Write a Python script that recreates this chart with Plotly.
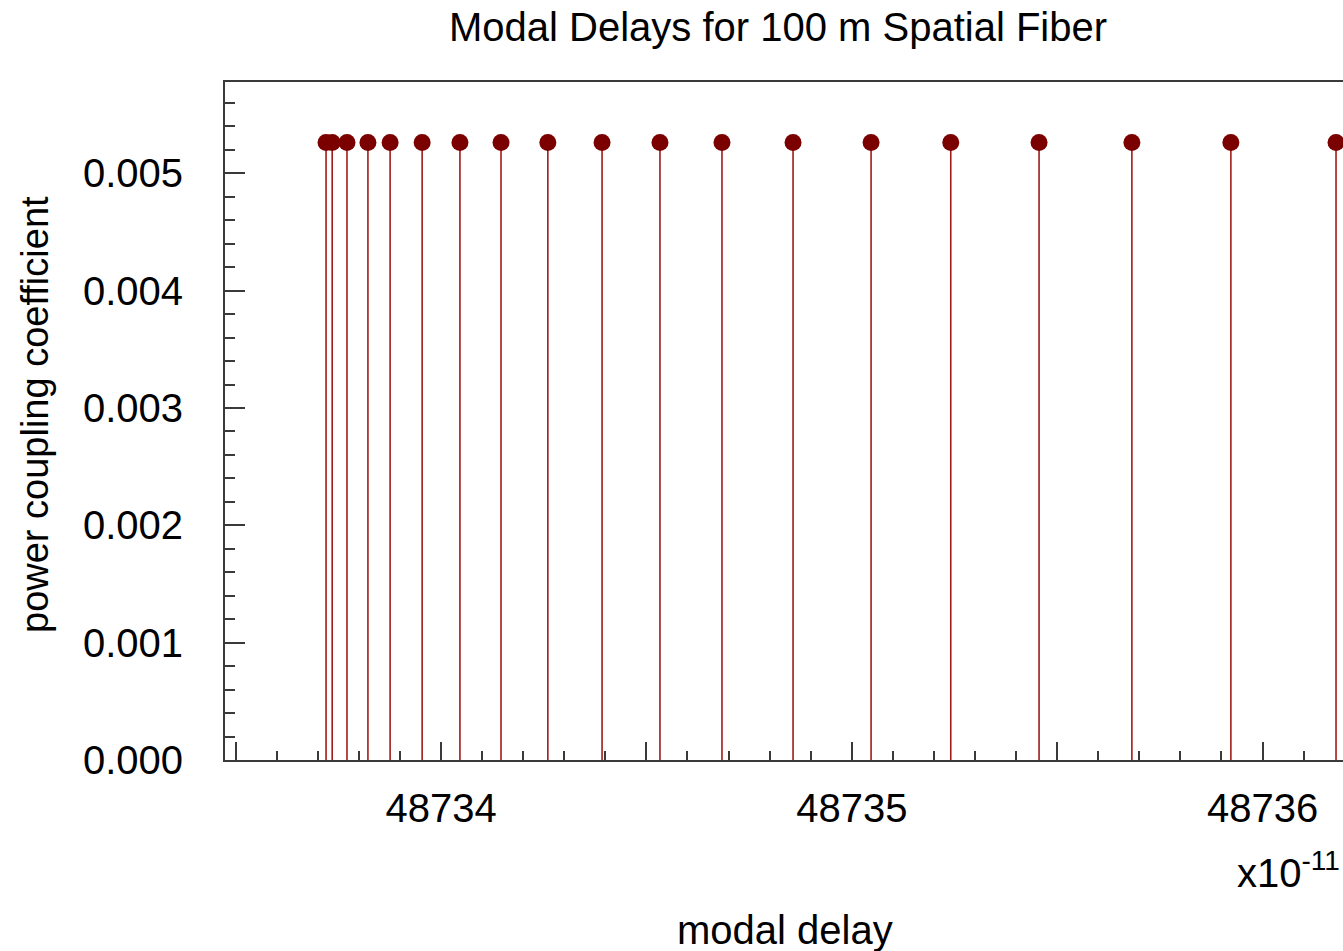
import plotly.graph_objects as go

# modal delays in units of 1e-11 s
delays = [48733.720, 48733.735, 48733.771, 48733.822, 48733.876, 48733.954,
          48734.046, 48734.146, 48734.260, 48734.392, 48734.533, 48734.684,
          48734.857, 48735.047, 48735.241, 48735.456, 48735.682, 48735.923,
          48736.179]
coupling = [0.005263] * len(delays)

x_label_vals = [48734, 48735, 48736]
x_label_text = ["48734", "48735", "48736"]
y_tick_vals = [0.0, 0.001, 0.002, 0.003, 0.004, 0.005]
y_tick_text = ["0.000", "0.001", "0.002", "0.003", "0.004", "0.005"]

FONT = "Liberation Sans, Arial, sans-serif"
W, H = 1343, 951
L, R, T, B = 225, 0, 82, 191
pw, ph = W - L - R, H - T - B
XR = [48733.474, 48736.196]


def px(x):
    return (x - L) / pw


def py(y):
    return (H - B - y) / ph


fig = go.Figure()
fig.add_trace(go.Scatter(
    x=delays, y=coupling, mode="markers",
    marker=dict(size=17, color="#7B0000", line=dict(width=0)),
    error_y=dict(type="data", symmetric=False, array=[0] * len(coupling),
                 arrayminus=coupling, width=0, thickness=1.6, color="#A01C1C"),
    showlegend=False, cliponaxis=False,
))
# helper trace so the half-unit tick axis is rendered
fig.add_trace(go.Scatter(x=[XR[0]], y=[0], xaxis="x2", mode="markers",
                         marker=dict(size=1, opacity=0), showlegend=False,
                         hoverinfo="skip"))

axis_col = "#3a3a3a"
fig.update_layout(
    xaxis=dict(
        range=XR,
        tickmode="array", tickvals=x_label_vals, ticktext=x_label_text,
        ticks="inside", ticklen=18, tickwidth=2, tickcolor=axis_col,
        minor=dict(tick0=48733.5, dtick=0.1, ticks="inside", ticklen=9,
                   tickwidth=2, tickcolor=axis_col, showgrid=False),
        showline=True, linewidth=2, linecolor=axis_col, mirror=True,
        showgrid=False, zeroline=False,
        tickfont=dict(family=FONT, size=40, color="#000"),
        ticklabelstandoff=12,
    ),
    xaxis2=dict(
        range=XR, overlaying="x", side="bottom", anchor="y",
        tickmode="linear", tick0=48733.5, dtick=0.5,
        ticks="inside", ticklen=18, tickwidth=2, tickcolor=axis_col,
        showticklabels=False, showline=False, showgrid=False, zeroline=False,
    ),
    yaxis=dict(
        range=[0, 0.005778],
        tickmode="array", tickvals=y_tick_vals, ticktext=y_tick_text,
        ticks="inside", ticklen=20, tickwidth=2, tickcolor=axis_col,
        minor=dict(tick0=0, dtick=0.0002, ticks="inside", ticklen=10,
                   tickwidth=2, tickcolor=axis_col, showgrid=False),
        showline=True, linewidth=2, linecolor=axis_col, mirror=False,
        showgrid=False, zeroline=False,
        tickfont=dict(family=FONT, size=40, color="#000"),
        ticklabelstandoff=32,
    ),
)

annots = [
    dict(text="Modal Delays for 100 m Spatial Fiber", x=px(778), y=py(27),
         xanchor="center", yanchor="middle", font=dict(size=40)),
    dict(text="modal delay", x=px(785), y=py(930),
         xanchor="center", yanchor="middle", font=dict(size=40)),
    dict(text="power coupling coefficient", x=px(35), y=py(415),
         xanchor="center", yanchor="middle", textangle=-90, font=dict(size=38)),
    dict(text="x10<sup>-11</sup>", x=px(1342), y=py(870),
         xanchor="right", yanchor="middle", font=dict(size=40)),
]
for a in annots:
    a.update(xref="paper", yref="paper", showarrow=False)
    a["font"].update(family=FONT, color="#000")
    fig.add_annotation(**a)

fig.update_layout(
    width=W, height=H,
    margin=dict(l=L, r=R, t=T, b=B, pad=0),
    paper_bgcolor="white", plot_bgcolor="white",
)

fig.write_html("out.html")
